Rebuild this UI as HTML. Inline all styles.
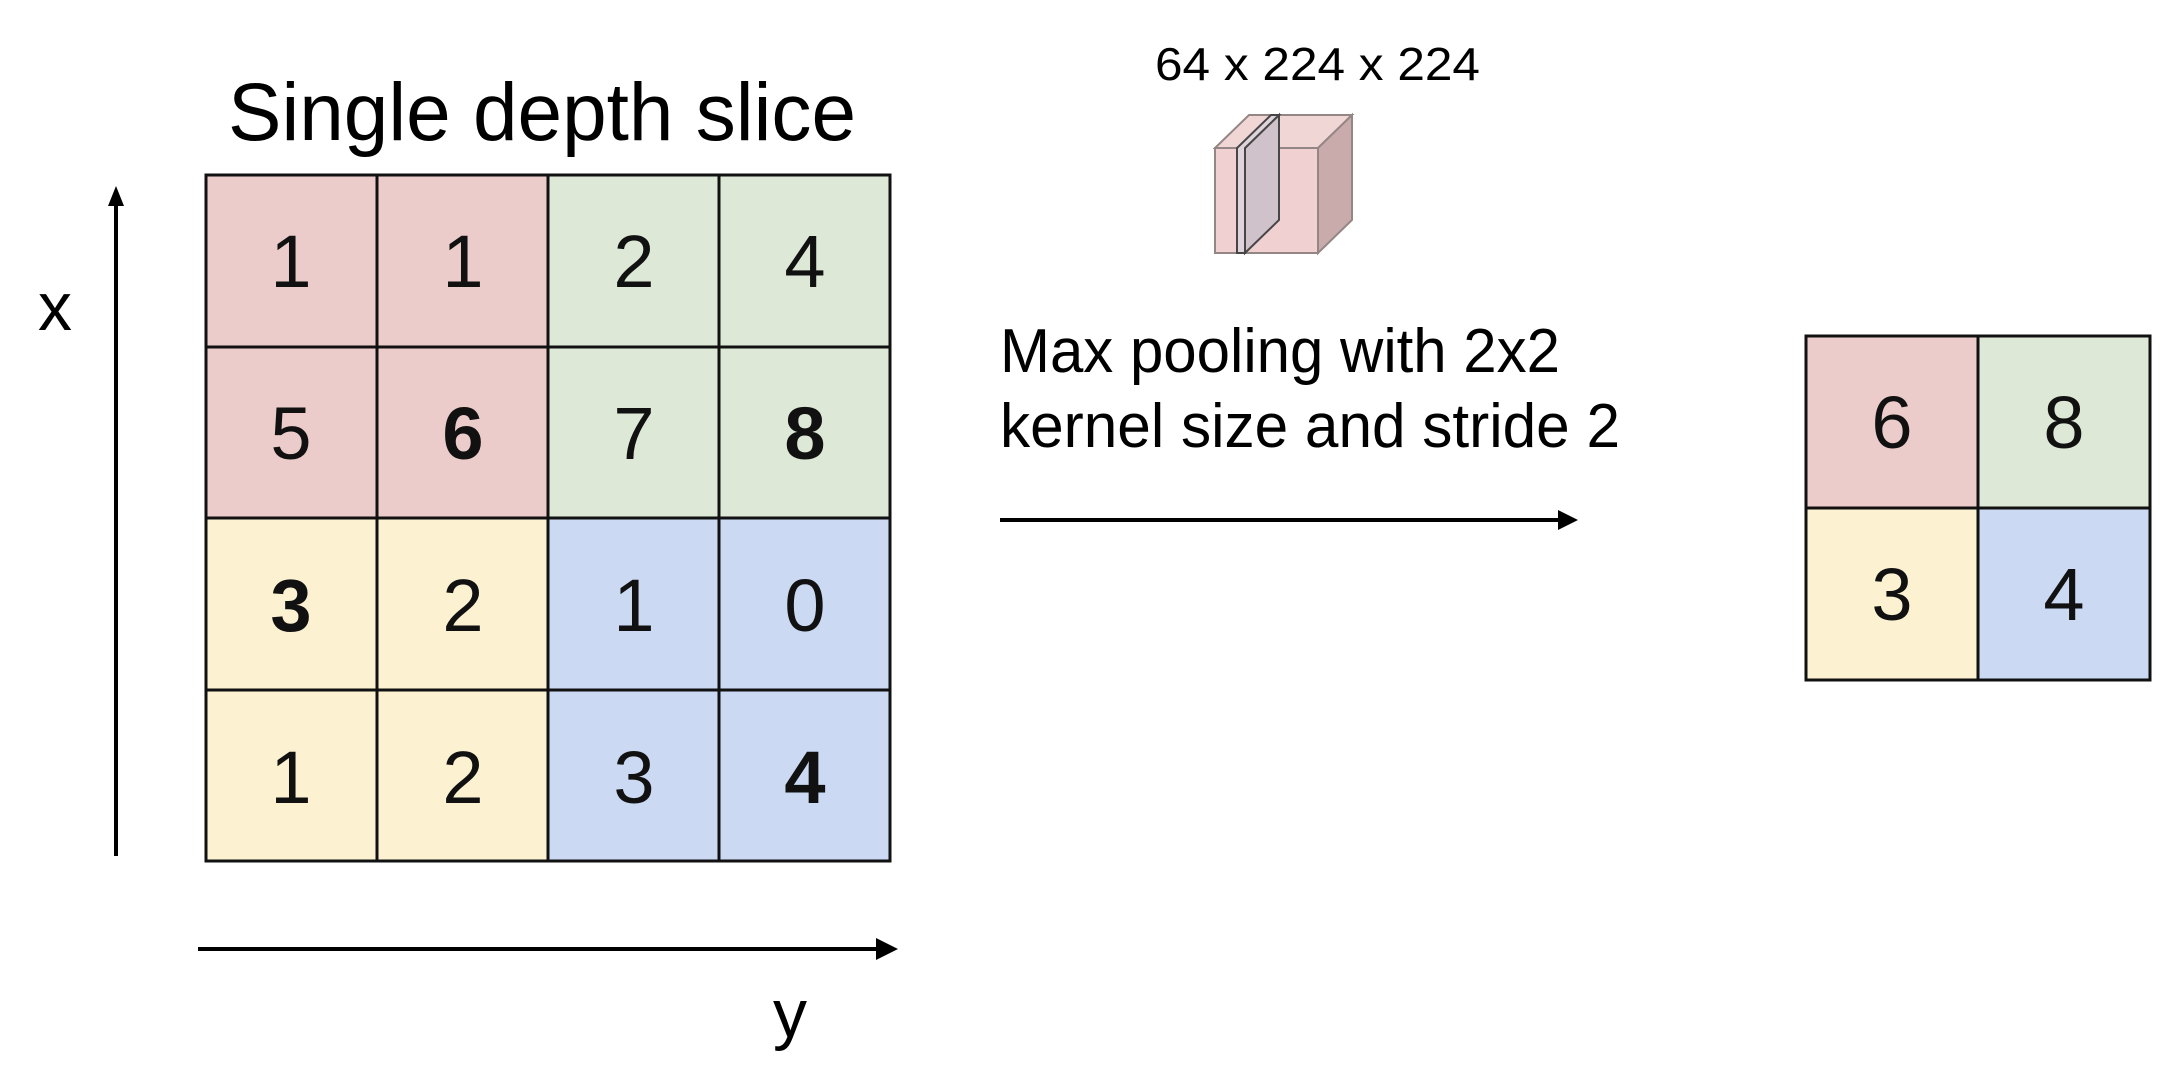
<!DOCTYPE html>
<html><head><meta charset="utf-8"><style>html,body{margin:0;padding:0;background:#fff}svg{display:block}</style></head>
<body>
<svg width="2182" height="1076" viewBox="0 0 2182 1076" xmlns="http://www.w3.org/2000/svg" font-family="Liberation Sans, sans-serif">
<rect width="2182" height="1076" fill="#fff"/>
<text x="228" y="140" font-size="82" textLength="628" lengthAdjust="spacingAndGlyphs">Single depth slice</text>
<g stroke="#111" stroke-width="3">
<rect x="206" y="175" width="342" height="343" fill="#ecccca"/>
<rect x="548" y="175" width="342" height="343" fill="#dde9d6"/>
<rect x="206" y="518" width="342" height="343" fill="#fcf2d2"/>
<rect x="548" y="518" width="342" height="343" fill="#cbd9f3"/>
<line x1="377" y1="175" x2="377" y2="861"/>
<line x1="719" y1="175" x2="719" y2="861"/>
<line x1="206" y1="347" x2="890" y2="347"/>
<line x1="206" y1="690" x2="890" y2="690"/>
</g>
<g font-size="74" text-anchor="middle" fill="#111">
<text x="291" y="287">1</text><text x="463" y="287">1</text><text x="634" y="287">2</text><text x="805" y="287">4</text>
<text x="291" y="459">5</text><text x="463" y="459" font-weight="bold">6</text><text x="634" y="459">7</text><text x="805" y="459" font-weight="bold">8</text>
<text x="291" y="631" font-weight="bold">3</text><text x="463" y="631">2</text><text x="634" y="631">1</text><text x="805" y="631">0</text>
<text x="291" y="803">1</text><text x="463" y="803">2</text><text x="634" y="803">3</text><text x="805" y="803" font-weight="bold">4</text>
</g>
<line x1="116" y1="856" x2="116" y2="200" stroke="#000" stroke-width="4"/>
<polygon points="116,186 108,206 124,206" fill="#000"/>
<text x="38" y="330" font-size="68">x</text>
<line x1="198" y1="949" x2="882" y2="949" stroke="#000" stroke-width="4"/>
<polygon points="898,949 876,938 876,960" fill="#000"/>
<text x="773" y="1037" font-size="68">y</text>
<text x="1155" y="80" font-size="46" textLength="325" lengthAdjust="spacingAndGlyphs">64 x 224 x 224</text>
<g stroke="#8a7a7a" stroke-width="2" opacity="0.9">
<polygon points="1215,148 1249,115 1352,115 1318,148" fill="#f0d2d2"/>
<polygon points="1318,148 1352,115 1352,220 1318,253" fill="#c4a2a2"/>
<rect x="1215" y="148" width="103" height="105" fill="#efcccc"/>
<polygon points="1245,253 1245,148 1279,115 1279,220" fill="#cbbcc6" stroke="#333"/>
<polygon points="1237,253 1237,148 1271,115 1279,115 1245,148 1245,253" fill="#dcd0d8" stroke="#333"/>
</g>
<text x="1000" y="372" font-size="62" textLength="560" lengthAdjust="spacingAndGlyphs">Max pooling with 2x2</text>
<text x="1000" y="447" font-size="62" textLength="620" lengthAdjust="spacingAndGlyphs">kernel size and stride 2</text>
<line x1="1000" y1="520" x2="1560" y2="520" stroke="#000" stroke-width="4"/>
<polygon points="1578,520 1558,510 1558,530" fill="#000"/>
<g stroke="#111" stroke-width="3">
<rect x="1806" y="336" width="172" height="172" fill="#ecccca"/>
<rect x="1978" y="336" width="172" height="172" fill="#dde9d6"/>
<rect x="1806" y="508" width="172" height="172" fill="#fcf2d2"/>
<rect x="1978" y="508" width="172" height="172" fill="#cbd9f3"/>
</g>
<g font-size="74" text-anchor="middle" fill="#111">
<text x="1892" y="448">6</text><text x="2064" y="448">8</text>
<text x="1892" y="620">3</text><text x="2064" y="620">4</text>
</g>
</svg>
</body></html>
